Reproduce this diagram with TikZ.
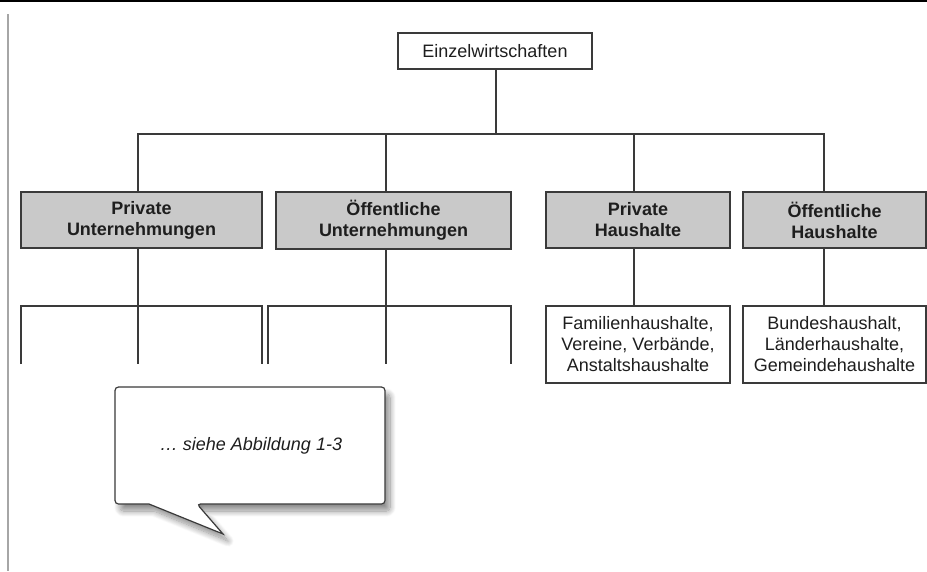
\documentclass[tikz,border=0pt]{standalone}
\usepackage{fontspec}
\setmainfont{Liberation Sans}
\usetikzlibrary{shadows.blur}
\definecolor{linegray}{HTML}{3A3A3A}
\definecolor{boxfill}{HTML}{C9C9C9}
\definecolor{textdark}{HTML}{1E1E1E}
\begin{document}
\begin{tikzpicture}[x=1pt,y=-1pt,
  every node/.style={inner sep=0pt, align=center, text=textdark,
    font=\fontsize{18}{21}\selectfont},
  conn/.style={draw=linegray, line width=1.3pt},
  plainbox/.style={draw=linegray, line width=1.3pt, fill=white},
  headbox/.style={draw=linegray, line width=1.3pt, fill=boxfill,
    font=\fontsize{18}{21}\selectfont\bfseries},
  callout/.style={draw=linegray, line width=1.2pt, fill=white,
    blur shadow={shadow xshift=5pt, shadow yshift=-7pt,
      shadow blur radius=6pt, shadow blur steps=12, shadow opacity=45}}
]
\useasboundingbox (0,0) rectangle (927,571);

% page rule and margin line
\draw[line width=2.6pt, black] (0,1) -- (927,1);
\draw[line width=1.6pt, black!35] (8,14) -- (8,571);

% root
\node[plainbox, minimum width=194pt, minimum height=36pt] (root) at (495,51) {Einzelwirtschaften};

% first level
\node[headbox, minimum width=241pt, minimum height=56pt] (pu) at (141.5,220) {Private\\Unternehmungen};
\node[headbox, minimum width=235pt, minimum height=57pt] (ou) at (393.5,220.5) {Öffentliche\\Unternehmungen};
\node[headbox, minimum width=184pt, minimum height=56pt] (ph) at (638,220) {Private\\Haushalte};
\node[headbox, minimum width=183pt, minimum height=56pt] (oh) at (834.5,220) {Öffentliche\\Haushalte};

% second level
\node[plainbox, minimum width=184pt, minimum height=77pt] (fh) at (638,344.5) {Familienhaushalte,\\Vereine, Verbände,\\Anstaltshaushalte};
\node[plainbox, minimum width=183pt, minimum height=77pt] (bh) at (834.5,344.5) {Bundeshaushalt,\\Länderhaushalte,\\Gemeindehaushalte};

% branch points
\coordinate (bus) at (496,134);

% root to first level
\draw[conn] ([xshift=1pt]root.south) -- ([xshift=1pt]root.south |- bus);
\draw[conn] ([xshift=-3.5pt]pu.north) |- (bus) -| ([xshift=-10.5pt]oh.north);
\draw[conn] ([xshift=-7.5pt]ou.north) -- ([xshift=-7.5pt]ou.north |- bus);
\draw[conn] ([xshift=-4pt]ph.north) -- ([xshift=-4pt]ph.north |- bus);

% open brackets below the enterprises
\coordinate (pua) at (21,364);
\coordinate (pub) at (138,364);
\coordinate (puc) at (262,364);
\coordinate (oua) at (268,364);
\coordinate (oub) at (386,364);
\coordinate (ouc) at (511,364);
\draw[conn] (pua) -- ++(0,-58) -| (puc);
\draw[conn] ([xshift=-3.5pt]pu.south) -- (pub);
\draw[conn] (oua) -- ++(0,-58) -| (ouc);
\draw[conn] ([xshift=-7.5pt]ou.south) -- (oub);

% households to their members
\draw[conn] ([xshift=-4pt]ph.south) -- ([xshift=-4pt]fh.north);
\draw[conn] ([xshift=-10.5pt]oh.south) -- ([xshift=-10.5pt]bh.north);

% speech bubble
\path[callout] (115,387) [rounded corners=3.5pt] -- (385,387) -- (385,504)
  -- (197,504) [sharp corners] -- (223,534) -- (149,504)
  [rounded corners=3.5pt] -- (115,504) -- cycle;
\node[font=\fontsize{18}{21}\selectfont\itshape] (note) at (251,446) {… siehe Abbildung 1-3};
\end{tikzpicture}
\end{document}
